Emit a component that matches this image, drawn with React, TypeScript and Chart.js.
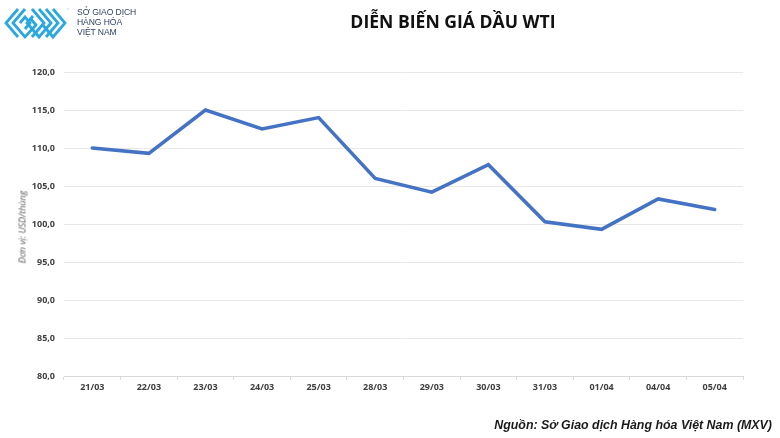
import React, { useEffect, useRef } from "react";
import { Chart, registerables } from "chart.js";

Chart.register(...registerables);

const categories = ["21/03", "22/03", "23/03", "24/03", "25/03", "28/03", "29/03", "30/03", "31/03", "01/04", "04/04", "05/04"];
const wtiPrices = [110.0, 109.3, 115.0, 112.5, 114.0, 106.0, 104.2, 107.8, 100.3, 99.3, 103.3, 101.9];
const yMin = 80;
const yMax = 120;
const yStep = 5;

const title = "DIỄN BIẾN GIÁ DẦU WTI";
const axisTitle = "Đơn vị: USD/thùng";
const sourceText = "Nguồn: Sở Giao dịch Hàng hóa Việt Nam (MXV)";
const logoLines = ["SỞ GIAO DỊCH", "HÀNG HÓA", "VIỆT NAM"];

export default function App() {
  const ref = useRef<HTMLCanvasElement | null>(null);

  useEffect(() => {
    document.body.style.margin = "0";
    const canvas = ref.current;
    if (!canvas) return;
    const chart = new Chart(canvas, {
      type: "line",
      data: {
        labels: categories,
        datasets: [
          {
            data: wtiPrices,
            borderColor: "#4472C4",
            borderWidth: 3.5,
            pointRadius: 0,
            pointHoverRadius: 0,
            tension: 0,
            fill: false,
            borderCapStyle: "round",
            borderJoinStyle: "miter",
          },
        ],
      },
      options: {
        animation: false,
        responsive: false,
        maintainAspectRatio: false,
        events: [],
        layout: { padding: { left: 0, right: 37, top: 72, bottom: 0 } },
        plugins: { legend: { display: false }, tooltip: { enabled: false }, title: { display: false } },
        scales: {
          x: {
            type: "category",
            offset: true,
            border: { display: true, color: "#d9d9d9", width: 1 },
            grid: { display: true, offset: true, drawOnChartArea: false, drawTicks: true, tickLength: 4, color: "#d9d9d9" },
            ticks: {
              color: "#404040",
              font: { family: "'Open Sans', sans-serif", size: 9, weight: "bold" },
              padding: 2,
              maxRotation: 0,
              autoSkip: false,
            },
            afterFit: (s: any) => {
              s.height = 62;
            },
          },
          y: {
            min: yMin,
            max: yMax,
            border: { display: false },
            grid: { color: "#e8e8e8", lineWidth: 1, drawTicks: false },
            ticks: {
              stepSize: yStep,
              color: "#404040",
              padding: 9,
              font: { family: "'Open Sans', sans-serif", size: 9, weight: "bold" },
              callback: (v: any) => Number(v).toFixed(1).replace(".", ","),
            },
            afterFit: (s: any) => {
              s.width = 64;
            },
          },
        },
      },
    });
    return () => chart.destroy();
  }, []);

  return (
    <div style={{ position: "absolute", left: 0, top: 0, width: 780, height: 438, background: "#ffffff", overflow: "hidden" }}>
      <canvas ref={ref} width={780} height={438} style={{ position: "absolute", left: 0, top: 0, width: 780, height: 438 }} />
      <svg width={70} height={40} style={{ position: "absolute", left: 2, top: 3 }} viewBox="0 0 70 40">
        <g fill="none" stroke="#2AA8DF" strokeWidth={2.8} strokeLinejoin="miter">
          <polyline points="16,6 4,20 16,34" />
          <polyline points="23,6 11,20 23,34 34,22 28,15" />
          <polyline points="30,6 42,20 30,34" />
          <polyline points="37,6 49,20 37,34 25,20 31,13" />
          <polyline points="44,6 56,20 44,34" />
          <polyline points="51,6 63,20 51,34 40,21" />
          <polyline points="18,20 23,14 28,20 23,26" />
        </g>
        <text x={64} y={8} fontSize={3.5} fill="#2AA8DF" fontFamily="'DejaVu Sans', sans-serif">™</text>
      </svg>
      <div style={{ position: "absolute", left: 77, top: 7, fontFamily: "'Liberation Sans', Arial, sans-serif", fontSize: 8.6, lineHeight: "10px", color: "#2f3f64", letterSpacing: -0.1 }}>
        {logoLines.map((l) => (
          <div key={l}>{l}</div>
        ))}
      </div>
      <div style={{ position: "absolute", left: 0, width: 906, top: 9, textAlign: "center", fontFamily: "'Open Sans', sans-serif", fontWeight: 700, fontSize: 17.6, color: "#111111", whiteSpace: "nowrap" }}>
        {title}
      </div>
      <div style={{ position: "absolute", left: 22, top: 227, width: 0, height: 0 }}>
        <div style={{ position: "absolute", transform: "translate(-50%, -50%) rotate(-90deg)", whiteSpace: "nowrap", fontFamily: "'Open Sans', sans-serif", fontStyle: "italic", fontSize: 9, color: "#595959" }}>
          {axisTitle}
        </div>
      </div>
      <div style={{ position: "absolute", right: 8, top: 418, fontFamily: "'Liberation Sans', Arial, sans-serif", fontStyle: "italic", fontWeight: 700, fontSize: 12.4, color: "#1a1a1a", whiteSpace: "nowrap" }}>
        {sourceText}
      </div>
    </div>
  );
}
